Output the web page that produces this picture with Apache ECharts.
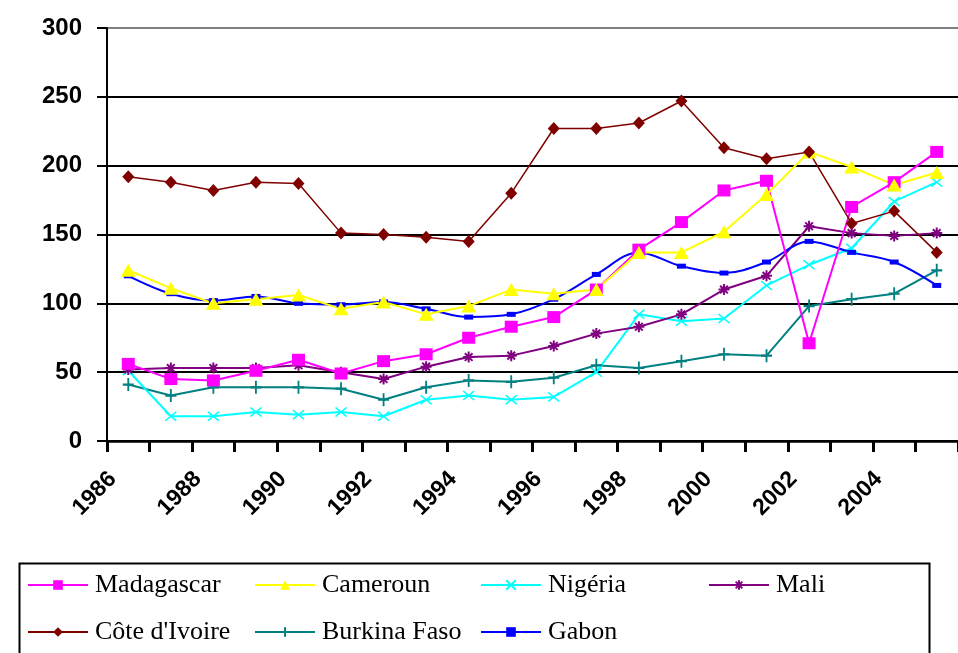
<!DOCTYPE html>
<html>
<head>
<meta charset="utf-8">
<script src="https://cdn.jsdelivr.net/npm/echarts@6/dist/echarts.min.js"></script>
<style>
html,body{margin:0;padding:0;background:#fff;}
#chart{width:958px;height:653px;}
</style>
</head>
<body>
<div id="chart"></div>
<script>
var years = ['1986','1987','1988','1989','1990','1991','1992','1993','1994','1995','1996','1997','1998','1999','2000','2001','2002','2003','2004','2005'];
var yTicks = [0, 50, 100, 150, 200, 250, 300];

var madagascar  = [56, 45, 44, 51, 59, 49, 58, 63, 75, 83, 90, 110, 139, 159, 182, 189, 71, 170, 188, 210];
var cameroun    = [124, 111, 100, 103, 106, 96, 101, 92, 98, 110, 107, 110, 137, 137, 152, 179, 210, 199, 186, 195];
var nigeria     = [51, 18, 18, 21, 19, 21, 18, 30, 33, 30, 32, 50, 92, 87, 89, 113, 128, 140, 174, 188];
var mali        = [52, 53, 53, 53, 55, 50, 45, 54, 61, 62, 69, 78, 83, 92, 110, 120, 156, 151, 149, 151];
var coteIvoire  = [192, 188, 182, 188, 187, 151, 150, 148, 145, 180, 227, 227, 231, 247, 213, 205, 210, 158, 167, 137];
var burkinaFaso = [41, 33, 39, 39, 39, 38, 30, 39, 44, 43, 46, 55, 53, 58, 63, 62, 98, 103, 107, 124];
var gabon       = [120, 107, 102, 105, 100, 99, 101, 96, 90, 92, 103, 121, 137, 127, 122, 130, 145, 137, 130, 113];

var sansB = "'Liberation Sans',Arial,sans-serif";
var serif = "'Liberation Serif','Times New Roman',serif";

var crossPath = 'path://M0,0L10,10M10,0L0,10';
var plusPath = 'path://M5,0L5,10M0,5L10,5';
var starPath = 'path://M5,0L5,10M0,5L10,5M1.5,1.5L8.5,8.5M8.5,1.5L1.5,8.5';

function mk(name, data, color, symbol, size, extra) {
  var s = {
    name: name, type: 'line', data: data,
    symbol: symbol, symbolSize: size,
    showAllSymbol: true,
    lineStyle: {color: color, width: 2},
    itemStyle: {color: color, borderColor: color, borderWidth: 0},
    emphasis: {disabled: true},
    animation: false
  };
  if (extra) { for (var k in extra) s[k] = extra[k]; }
  return s;
}

var series = [
  mk('Burkina Faso', burkinaFaso, '#008080', plusPath, [11, 13], {itemStyle: {color: 'none', borderColor: '#008080', borderWidth: 2}}),
  mk('Nigéria', nigeria, '#00FFFF', crossPath, [11, 9], {itemStyle: {color: 'none', borderColor: '#00FFFF', borderWidth: 1.5}}),
  mk('Mali', mali, '#800080', starPath, [11, 11], {itemStyle: {color: 'none', borderColor: '#800080', borderWidth: 2}}),
  mk('Gabon', gabon, '#0000FF', 'rect', [9, 5], {smooth: 0.35}),
  mk('Madagascar', madagascar, '#FF00FF', 'rect', [13, 12]),
  mk('Cameroun', cameroun, '#FFFF00', 'triangle', [15, 13]),
  mk('Côte d\'Ivoire', coteIvoire, '#800000', 'diamond', [12, 13], {lineStyle: {color: '#800000', width: 1.5}})
];

function leg(left, top, name) {
  return {
    orient: 'horizontal', left: left, top: top,
    itemWidth: 60, itemHeight: 12, itemGap: 0, padding: 0,
    data: [name],
    selectedMode: false,
    textStyle: {fontFamily: serif, fontSize: 26, color: '#000', padding: [0, 0, 0, 2]}
  };
}

var chart = echarts.init(document.getElementById('chart'), null, {renderer: 'canvas'});
chart.setOption({
  backgroundColor: '#fff',
  animation: false,
  grid: {left: 107, top: 28, width: 866, height: 413, containLabel: false},
  xAxis: {
    type: 'category', data: years, boundaryGap: true,
    axisLine: {show: true, onZero: false, lineStyle: {color: '#000', width: 2.5}},
    axisTick: {show: true, interval: 0, length: 11, lineStyle: {color: '#000', width: 3}},
    axisLabel: {
      interval: 1, rotate: 45, margin: 19,
      padding: [0, 22, 0, 0],
      fontFamily: sansB, fontWeight: 'bold', fontSize: 23, color: '#000'
    },
    splitLine: {show: false}
  },
  yAxis: {
    type: 'value', min: yTicks[0], max: yTicks[yTicks.length - 1], interval: 50,
    axisLine: {show: true, lineStyle: {color: '#000', width: 2}},
    axisTick: {show: true, length: 10, lineStyle: {color: '#000', width: 2}},
    axisLabel: {margin: 25, fontFamily: sansB, fontWeight: 'bold', fontSize: 24, color: '#000'},
    splitLine: {show: true, lineStyle: {color: ['#000', '#000', '#000', '#000', '#000', '#000', '#808080'], width: 2}}
  },
  legend: [
    leg(27, 572, 'Madagascar'),
    leg(27, 619, 'Côte d\'Ivoire'),
    leg(254, 572, 'Cameroun'),
    leg(254, 619, 'Burkina Faso'),
    leg(480, 572, 'Nigéria'),
    leg(480, 619, 'Gabon'),
    leg(708, 572, 'Mali')
  ],
  graphic: [{
    type: 'rect', left: 17, top: 561,
    shape: {width: 910, height: 110},
    style: {fill: 'none', stroke: '#000', lineWidth: 2},
    silent: true, z: -1
  }],
  series: series
});
</script>
</body>
</html>
